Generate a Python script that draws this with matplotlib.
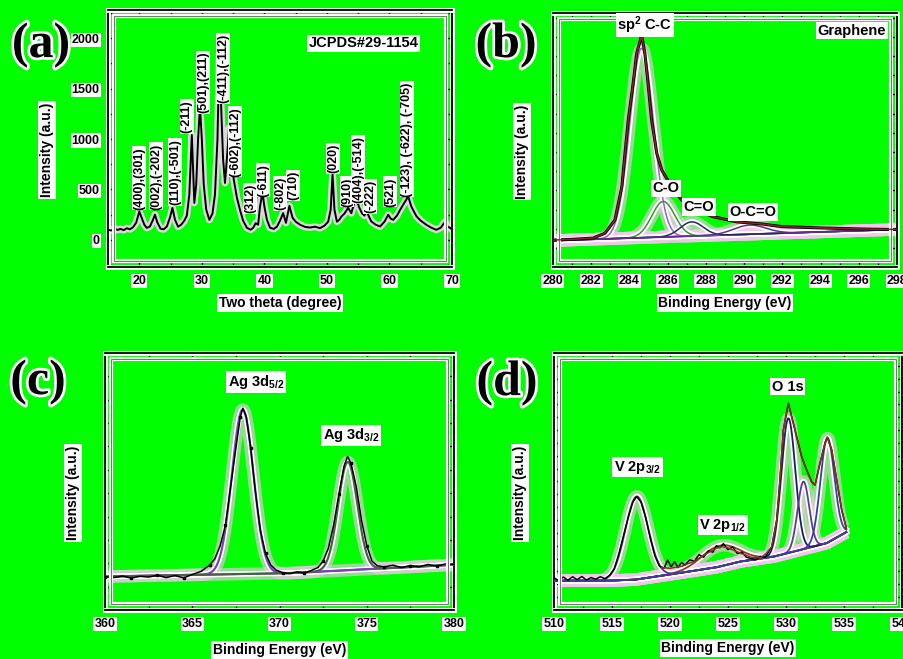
import numpy as np
import matplotlib
matplotlib.use("Agg")
import matplotlib.pyplot as plt
import matplotlib.patheffects as pe
from matplotlib.patches import Rectangle
from matplotlib.ticker import MultipleLocator, NullFormatter, NullLocator

plt.rcParams["font.family"] = ["Liberation Sans", "DejaVu Sans"]
plt.rcParams["font.weight"] = "bold"
plt.rcParams["mathtext.fontset"] = "custom"
plt.rcParams["mathtext.rm"] = "Liberation Sans:bold"
plt.rcParams["mathtext.default"] = "rm"

GREEN = "#00ff00"

# ---- (a) XRD pattern ----
xrd_2theta = [15.0, 15.5, 16.0, 16.5, 17.0, 17.5, 18.0, 18.5, 19.0, 19.5, 20.0, 20.4, 20.8,
              21.2, 21.7, 22.2, 22.5, 22.9, 23.4, 23.9, 24.4, 24.9, 25.3, 25.7, 26.2, 26.7,
              27.2, 27.6, 28.0, 28.4, 28.6, 28.8, 29.1, 29.4, 29.7, 30.0, 30.3, 30.7, 31.2,
              31.7, 32.1, 32.5, 32.8, 33.1, 33.4, 33.7, 34.0, 34.35, 34.7, 35.1, 35.6, 36.1,
              36.6, 37.2, 37.8, 38.2, 38.6, 39.0, 39.3, 39.7, 40.0, 40.4, 40.9, 41.5, 42.0,
              42.5, 43.0, 43.45, 44.0, 44.5, 45.0, 45.7, 46.5, 47.3, 48.1, 48.9, 49.6, 50.2,
              50.6, 50.9, 51.2, 51.6, 52.0, 52.3, 52.8, 53.4, 53.9, 54.3, 54.65, 55.1, 55.6,
              56.0, 56.35, 56.8, 57.1, 57.8, 58.5, 59.2, 59.8, 60.2, 60.6, 61.2, 61.7, 62.3,
              63.0, 63.5, 64.0, 64.35, 65.0, 65.9, 66.7, 67.5, 68.2, 68.9, 69.3, 69.7, 70.0]
xrd_int = [100, 92, 112, 98, 108, 96, 115, 104, 125, 170, 280, 215, 150,
           118, 132, 200, 250, 170, 110, 104, 132, 220, 317, 200, 130, 150,
           190, 240, 450, 1040, 700, 366, 550, 1000, 1320, 1000, 550, 300, 198,
           260, 450, 1000, 1848, 1300, 800, 564, 800, 1109, 850, 600, 420, 297,
           190, 119, 100, 118, 165, 150, 330, 470, 330, 200, 120, 108, 130,
           190, 265, 168, 337, 220, 180, 150, 128, 122, 130, 116, 140, 180,
           300, 650, 300, 180, 200, 230, 260, 317, 264, 350, 429, 330, 264,
           240, 281, 220, 182, 150, 132, 180, 248, 210, 198, 240, 297, 360,
           429, 330, 270, 231, 190, 149, 120, 99, 120, 181, 130, 119, 100]

xrd_labels = ["(400),(301)", "(002),(-202)", "(110),(-501)", "(-211)", "(501),(211)",
              "(-411),(-112)", "(-602),(-112)", "(312)", "(-611)", "(-802)", "(710)",
              "(020)", "(910)", "(404),(-514)", "(-222)", "(521)", "(-123), (-622), (-705)"]
xrd_label_x = [20.0, 22.7, 25.7, 27.6, 30.2, 33.4, 35.3, 37.7, 39.8, 42.5, 44.6,
               51.0, 53.2, 55.0, 56.9, 60.1, 62.8]
xrd_label_y = [300, 300, 345, 1060, 1255, 1353, 627, 264, 429, 297, 396,
               660, 330, 363, 264, 330, 429]

# ---- (b) C 1s of graphene ----
b_env_ev = [280.0, 281.0, 282.1, 282.72, 283.24, 283.6, 283.77, 283.94, 284.17, 284.38,
            284.64, 284.81, 284.99, 285.16, 285.43, 285.69, 286.21, 286.73, 287.52,
            288.39, 289.61, 291.0, 292.0, 294.0, 296.0, 298.0]
b_env_val = [10.6, 10.9, 11.4, 13.3, 18.5, 31.6, 44.8, 57.9, 71.0, 84.1,
             91.3, 84.1, 71.0, 57.9, 44.8, 38.2, 31.6, 26.4, 22.4,
             19.8, 17.8, 16.9, 15.9, 15.4, 15.0, 14.8]
b_base_ev = [280.0, 298.0]
b_base_val = [10.4, 14.8]
b_center = [284.64, 285.77, 287.26, 290.3]
b_height = [74.6, 14.0, 5.6, 3.6]
b_sigma = [0.62, 0.6, 0.6, 0.85]
b_colors = ["#9a5fd0", "#3f8f3f", "#26265e", "#6a2a8a"]

# ---- (c) Ag 3d ----
c_raw_ev = [360.0, 360.5, 361.0, 361.5, 362.0, 362.5, 363.0, 363.5, 364.0, 364.5, 365.0,
            365.5, 366.0, 366.3, 366.6, 366.9, 367.2, 367.5, 367.75, 367.9, 368.1, 368.35,
            368.6, 368.9, 369.2, 369.5, 369.8, 370.2, 370.6, 371.0, 371.4, 371.8, 372.2,
            372.5, 372.8, 373.1, 373.4, 373.7, 373.9, 374.1, 374.4, 374.7, 375.0, 375.3,
            375.6, 376.0, 376.5, 377.0, 377.5, 378.0, 378.5, 379.0, 379.5, 380.0]
c_raw_val = [13.0, 12.6, 13.2, 12.4, 13.1, 12.8, 13.5, 12.6, 13.4, 12.5, 13.8,
             15.0, 17.5, 20.0, 25.0, 33.0, 48.0, 63.0, 75.0, 78.5, 75.0, 63.0,
             47.0, 31.0, 22.0, 17.5, 15.5, 14.5, 14.2, 14.8, 14.4, 15.3, 16.5,
             19.0, 24.0, 33.0, 45.0, 56.0, 59.7, 57.0, 48.0, 35.0, 25.0, 19.0,
             17.2, 16.8, 17.4, 16.5, 17.3, 16.8, 17.7, 17.1, 17.9, 17.8]
c_base_ev = [360.0, 370.5, 380.0]
c_base_val = [13.0, 14.3, 17.6]
c_center = [367.89, 373.91]
c_height = [64.0, 42.1]
c_sigma = [0.62, 0.55]
c_colors = ["#7f3fbf", "#4d5d4d"]

# ---- (d) V 2p / O 1s ----
d_raw_ev = [510.0, 510.4, 510.8, 511.2, 511.6, 512.0, 512.4, 512.8, 513.2, 513.6, 514.0,
            514.4, 514.8, 515.2, 515.6, 516.0, 516.4, 516.8, 517.13, 517.5, 517.9, 518.3,
            518.7, 519.1, 519.5, 519.8, 520.1, 520.4, 520.7, 521.0, 521.3, 521.7, 522.1,
            522.5, 522.9, 523.3, 523.7, 524.0, 524.3, 524.6, 525.0, 525.4, 525.8, 526.2,
            526.6, 527.0, 527.4, 527.8, 528.2, 528.77, 529.2, 529.48, 529.77, 530.2, 530.5,
            530.92, 531.35, 531.78, 532.2, 532.5, 532.93, 533.36, 533.56, 533.94, 534.37,
            534.8, 535.2]
d_raw_val = [12.5, 11.5, 12.8, 11.6, 12.9, 11.8, 13.0, 11.7, 12.6, 12.0, 12.9,
             12.2, 13.5, 16.0, 22.0, 29.0, 36.0, 42.0, 44.1, 42.0, 36.0, 28.0,
             21.0, 17.0, 16.3, 19.5, 16.8, 18.8, 16.5, 18.5, 17.5, 19.5, 19.0,
             21.5, 20.5, 23.0, 22.5, 25.0, 24.2, 25.8, 23.5, 24.5, 22.0, 22.5,
             20.5, 20.0, 19.5, 20.8, 20.5, 24.6, 35.0, 50.6, 70.0, 80.4, 75.0,
             67.4, 59.6, 54.5, 49.9, 48.6, 57.1, 64.9, 67.2, 62.3, 50.6,
             38.9, 31.8]
d_env_ev = [519.3, 520.0, 521.0, 522.0, 523.0, 524.0, 524.5, 525.0, 526.0, 527.0, 527.8,
            528.3, 528.77, 529.2, 529.48, 529.77, 530.2, 530.5, 530.92, 531.35, 531.78,
            532.2, 532.5, 532.93, 533.36, 533.56, 533.94, 534.37, 534.8, 535.2]
d_env_val = [16.5, 16.2, 17.0, 18.8, 21.5, 24.0, 24.6, 24.2, 22.3, 20.5, 20.3,
             22.0, 24.6, 35.0, 50.6, 70.0, 80.4, 75.0, 67.4, 59.6, 54.5,
             49.9, 48.6, 57.1, 64.9, 67.2, 62.3, 50.6, 38.9, 31.8]
d_base_ev = [510.0, 514.8, 517.0, 519.7, 524.0, 526.0, 528.9, 531.8, 533.5, 535.2]
d_base_val = [11.4, 11.4, 11.8, 13.6, 16.6, 18.8, 20.7, 24.0, 26.0, 30.3]
d_center = [517.13, 524.3, 530.2, 531.5, 533.56]
d_height = [32.3, 8.1, 52.4, 26.3, 40.7]
d_sigma = [0.98, 1.6, 0.6, 0.5, 0.6]
d_colors = ["#6a2d91", "#8b3a2a", "#1c1c6b", "#5b3b99", "#3d3d9e"]

HALO = "white"
PINK = "#f6c6f2"
TXT_BOX = dict(facecolor="white", edgecolor="none", pad=1.2)


def gauss(x, c, h, s):
    return h * np.exp(-(x - c) ** 2 / (2 * s ** 2))


def curve(ax, x, y, color, lw=1.1, pink=True):
    if pink:
        ax.plot(x, y, color=PINK, lw=9, alpha=0.6, zorder=1, solid_capstyle="butt")
    ax.plot(x, y, color=HALO, lw=4, zorder=2)
    ax.plot(x, y, color=color, lw=lw, zorder=4)


def style(ax, xmaj, xmin, ymaj, ymin, ylabels, w_px, h_px):
    ax.set_facecolor(GREEN)
    for s in ax.spines.values():
        s.set_linewidth(1.3)
        s.set_path_effects([pe.Stroke(linewidth=3.5, foreground="white"), pe.Normal()])
    ax.xaxis.set_major_locator(MultipleLocator(xmaj))
    ax.xaxis.set_minor_locator(MultipleLocator(xmin))
    ax.yaxis.set_major_locator(MultipleLocator(ymaj))
    if ymin:
        ax.yaxis.set_minor_locator(MultipleLocator(ymin))
    else:
        ax.yaxis.set_minor_locator(NullLocator())
    ax.tick_params(which="both", direction="in", top=True, right=True, width=1.0)
    ax.tick_params(which="major", length=5, labelsize=9, pad=6)
    ax.tick_params(which="minor", length=3)
    if not ylabels:
        ax.yaxis.set_major_formatter(NullFormatter())
    dx, dy = 6 / w_px, 6 / h_px
    r = Rectangle((dx, dy), 1 - 2 * dx, 1 - 2 * dy, transform=ax.transAxes,
                  fill=False, edgecolor="#777777", lw=0.8, zorder=5,
                  path_effects=[pe.Stroke(linewidth=3, foreground="white"), pe.Normal()])
    ax.add_patch(r)


def labels(ax, xl, xpos, ylpos):
    ax.set_xlabel(xl, fontsize=10, fontweight="bold", bbox=TXT_BOX)
    ax.set_ylabel("Intensity (a.u.)", fontsize=10, fontweight="bold", bbox=TXT_BOX)
    ax.xaxis.set_label_coords(0.5, xpos)
    ax.xaxis.label.set_va("center")
    ax.yaxis.set_label_coords(ylpos, 0.455)
    ax.yaxis.label.set_va("center")


fig = plt.figure(figsize=(9.04, 6.59), dpi=100, facecolor=GREEN)

# (a)
ax_a = fig.add_axes([0.1195, 0.5948, 0.3805, 0.390])
ax_a.plot(xrd_2theta, xrd_int, color="#d8d8d8", lw=5, zorder=2)
ax_a.plot(xrd_2theta, xrd_int, color="black", lw=1.4, zorder=4)
ax_a.set_xlim(15, 70)
ax_a.set_ylim(-270, 2280)
style(ax_a, 10, 5, 500, 250, True, 344, 257)
labels(ax_a, "Two theta (degree)", -0.14, -0.177)
for t, x, y in zip(xrd_labels, xrd_label_x, xrd_label_y):
    ax_a.text(x, y, t, rotation=90, ha="center", va="bottom", fontsize=9,
              bbox=dict(facecolor="white", edgecolor="none", pad=0.6), zorder=6)
ax_a.text(55.9, 1950, "JCPDS#29-1154", ha="center", va="center", fontsize=10.5,
          bbox=TXT_BOX, zorder=6)

# (b)
ax_b = fig.add_axes([0.6117, 0.5948, 0.3805, 0.3854])
xb = np.linspace(280, 298, 600)
base_b = np.interp(xb, b_base_ev, b_base_val)
curve(ax_b, b_base_ev, b_base_val, "#2020a0", lw=1.3)
for c, h, s, col in zip(b_center, b_height, b_sigma, b_colors):
    curve(ax_b, xb, base_b + gauss(xb, c, h, s), col)
ax_b.plot(b_env_ev, b_env_val, color="black", lw=2.2, zorder=5)
ax_b.plot(b_env_ev, b_env_val, color="#8b2323", lw=1.1, zorder=6)
ax_b.set_xlim(280, 298)
ax_b.set_ylim(0, 100)
style(ax_b, 2, 1, 7.55, None, False, 344, 254)
labels(ax_b, "Binding Energy (eV)", -0.142, -0.09)
ax_b.text(284.8, 95.3, "sp$^2$ C-C", ha="center", va="center", fontsize=10.5, bbox=TXT_BOX, zorder=7)
ax_b.text(295.65, 93, "Graphene", ha="center", va="center", fontsize=10.5, bbox=TXT_BOX, zorder=7)
ax_b.text(285.9, 31, "C-O", ha="center", va="center", fontsize=10.5, bbox=TXT_BOX, zorder=7)
ax_b.text(287.65, 23.6, "C=O", ha="center", va="center", fontsize=10.5, bbox=TXT_BOX, zorder=7)
ax_b.text(290.45, 21.7, "O-C=O", ha="center", va="center", fontsize=10.5, bbox=TXT_BOX, zorder=7)

# (c)
ax_c = fig.add_axes([0.1162, 0.0744, 0.386, 0.390])
xc = np.linspace(360, 380, 600)
base_c = np.interp(xc, c_base_ev, c_base_val)
ax_c.plot(c_base_ev[:2], c_base_val[:2], color="#2f4f4f", lw=1.3, zorder=3)
ax_c.plot(c_base_ev[1:], c_base_val[1:], color="#3030c0", lw=1.3, zorder=3)
for c, h, s, col in zip(c_center, c_height, c_sigma, c_colors):
    curve(ax_c, xc, base_c + gauss(xc, c, h, s), col, lw=1.6)
ax_c.plot(c_raw_ev, c_raw_val, color="black", lw=1.1, zorder=5,
          marker="s", ms=1.8, markevery=3)
ax_c.set_xlim(360, 380)
ax_c.set_ylim(0, 100)
style(ax_c, 5, 2.5, 100 / 11, None, False, 349, 257)
labels(ax_c, "Binding Energy (eV)", -0.156, -0.092)
ax_c.text(368.65, 88.7, "Ag 3d$_{5/2}$", ha="center", va="center", fontsize=10.5, bbox=TXT_BOX, zorder=7)
ax_c.text(374.1, 68, "Ag 3d$_{3/2}$", ha="center", va="center", fontsize=10.5, bbox=TXT_BOX, zorder=7)

# (d)
ax_d = fig.add_axes([0.6128, 0.0744, 0.385, 0.390])
xd = np.linspace(510, 535.2, 800)
base_d = np.interp(xd, d_base_ev, d_base_val)
curve(ax_d, d_base_ev, d_base_val, "#3a2a8a", lw=1.3)
for c, h, s, col in zip(d_center, d_height, d_sigma, d_colors):
    curve(ax_d, xd, base_d + gauss(xd, c, h, s), col, lw=1.3)
ax_d.plot(d_raw_ev, d_raw_val, color="black", lw=1.1, zorder=5)
ax_d.plot(d_env_ev, d_env_val, color="#8b2e1e", lw=1.1, zorder=6)
ax_d.set_xlim(510, 540)
ax_d.set_ylim(0, 100)
style(ax_d, 5, 2.5, 5, None, False, 348, 257)
labels(ax_d, "Binding Energy (eV)", -0.148, -0.098)
ax_d.text(517.2, 55.6, "V 2p$_{3/2}$", ha="center", va="center", fontsize=10.5, bbox=TXT_BOX, zorder=7)
ax_d.text(524.55, 33, "V 2p$_{1/2}$", ha="center", va="center", fontsize=10.5, bbox=TXT_BOX, zorder=7)
ax_d.text(530.15, 86.9, "O 1s", ha="center", va="center", fontsize=10.5, bbox=TXT_BOX, zorder=7)

# panel letters
for t, x, y in [("(a)", 41, 45), ("(b)", 506, 45), ("(c)", 38, 382), ("(d)", 507, 383)]:
    fig.text(x / 904, 1 - y / 659, t, family="Liberation Serif", fontweight="bold",
             fontsize=36, ha="center", va="center",
             path_effects=[pe.withStroke(linewidth=4, foreground="white")])

fig.canvas.draw()
for ax in (ax_a, ax_b, ax_c, ax_d):
    for lbl in ax.get_xticklabels() + ax.get_yticklabels():
        if lbl.get_text():
            lbl.set_bbox(dict(facecolor="white", edgecolor="none", pad=0.8))

fig.savefig("out.png", dpi=100, facecolor=GREEN)
